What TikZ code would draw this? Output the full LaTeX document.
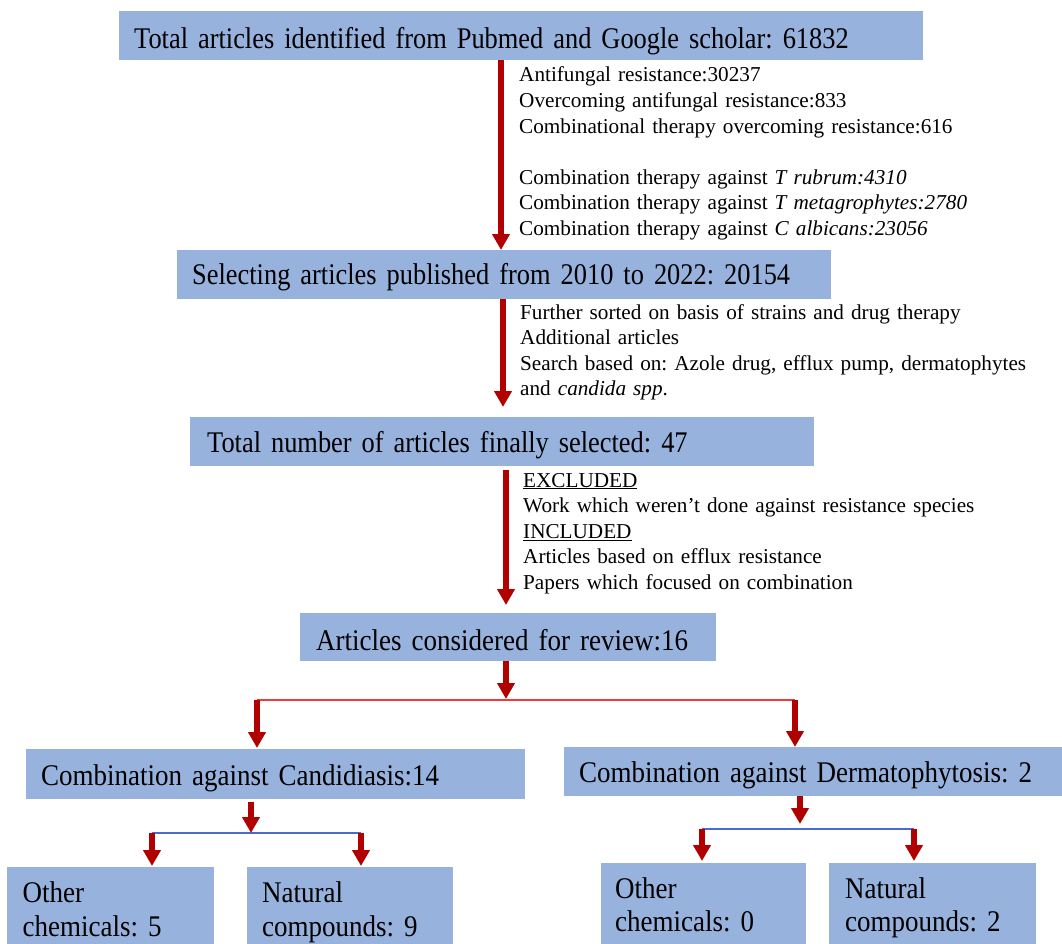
\documentclass[tikz,border=0pt]{standalone}
\usepackage{fontspec}
\setmainfont{Liberation Serif}
\newfontfamily\boxfonta[FakeStretch=0.88]{Liberation Serif}
\newfontfamily\boxfontb[FakeStretch=0.90]{Liberation Serif}
\usetikzlibrary{arrows.meta}
\definecolor{boxblue}{HTML}{98B2DE}
\definecolor{arrowred}{HTML}{B00000}
\definecolor{linered}{HTML}{F23A3A}
\definecolor{lineblue}{HTML}{4A6CC8}
\frenchspacing
\begin{document}
\begin{tikzpicture}[x=1pt,y=-1pt,
  box/.style={fill=boxblue, inner ysep=0pt, align=left, anchor=north west,
    font=\frenchspacing\boxfontb\fontsize{30}{33.5}\selectfont},
  topbox/.style={box, font=\frenchspacing\boxfonta\fontsize{30}{33.5}\selectfont},
  note/.style={inner sep=0pt, align=left, anchor=base west, text width=540pt,
    font=\frenchspacing\fontsize{21.2}{25.6}\selectfont},
  arr/.style={draw=arrowred, line width=6pt, -{Triangle[width=17pt,length=16pt]}},
  redbar/.style={draw=linered, line width=2.5pt},
  bluebar/.style={draw=lineblue, line width=2.5pt}]
\useasboundingbox (0,0) rectangle (1062,944);
\clip (0,0) rectangle (1062,944);

% main boxes
\node[topbox, inner xsep=15pt, text width=774pt, text height=37pt, text depth=12pt] (b1) at (119,11)
  {Total articles identified from Pubmed and Google scholar: 61832};
\node[topbox, inner xsep=15pt, text width=624pt, text height=34pt, text depth=15pt] (b2) at (177,250)
  {Selecting articles published from 2010 to 2022: 20154};
\node[topbox, inner xsep=17pt, text width=590pt, text height=35pt, text depth=14pt] (b3) at (190,417)
  {Total number of articles finally selected: 47};
\node[box, inner xsep=16pt, text width=384pt, text height=37pt, text depth=11pt] (b4) at (300,613)
  {Articles considered for review:16};
\node[box, inner xsep=15pt, text width=469pt, text height=36pt, text depth=14pt] (b5) at (26,749)
  {Combination against Candidiasis:14};
\node[box, inner xsep=15pt, text width=472pt, text height=35pt, text depth=14pt] (b6) at (564,747)
  {Combination against Dermatophytosis: 2};
\node[box, inner xsep=15.5pt, text width=176pt, text height=35.7pt, text depth=50pt] (b7) at (7,867)
  {Other\\chemicals: 5};
\node[box, inner xsep=15pt, text width=176pt, text height=35.7pt, text depth=50pt] (b8) at (247,867)
  {Natural\\compounds: 9};
\node[box, inner xsep=14pt, text width=177pt, text height=35pt, text depth=55pt] (b9) at (601,863)
  {Other\\chemicals: 0};
\node[box, inner xsep=16pt, text width=175pt, text height=35pt, text depth=55pt] (b10) at (829,863)
  {Natural\\compounds: 2};

% side notes
\node[note] (n1) at (519,82)
  {Antifungal resistance:30237\\
   Overcoming antifungal resistance:833\\
   Combinational therapy overcoming resistance:616\\[25.6pt]
   Combination therapy against \textit{T rubrum:4310}\\
   Combination therapy against \textit{T metagrophytes:2780}\\
   Combination therapy against \textit{C albicans:23056}};
\node[note] (n2) at (520,319)
  {Further sorted on basis of strains and drug therapy\\
   Additional articles\\
   Search based on: Azole drug, efflux pump, dermatophytes\\
   and \textit{candida spp}.};
\node[note] (n3) at (523,487)
  {\underline{EXCLUDED}\\
   Work which weren’t done against resistance species\\
   \underline{INCLUDED}\\
   Articles based on efflux resistance\\
   Papers which focused on combination};

% branch points
\coordinate (rj) at (506,700);
\coordinate (rl) at (257,700);
\coordinate (rr) at (795,700);
\coordinate (bl) at (251,833);
\coordinate (bl1) at (152,833);
\coordinate (bl2) at (361,833);
\coordinate (brj) at (800,829);
\coordinate (br1) at (702,829);
\coordinate (br2) at (914,829);

\draw[redbar] (rl) -- (rr);
\draw[bluebar] (bl1) -- (bl2);
\draw[bluebar] (br1) -- (br2);

% arrows
\draw[arr] (b1.south -| 501,0) -- (b2.north -| 501,0);
\draw[arr, shorten >=10pt] (b2.south -| 503,0) -- (b3.north -| 503,0);
\draw[arr, shorten <=4pt, shorten >=8pt] (b3.south -| 506,0) -- (b4.north -| 506,0);
\draw[arr, shorten >=1pt] (b4.south -| rj) -- (rj);
\draw[arr, shorten >=1pt] (rl) -- (b5.north -| rl);
\draw[arr] (rr) -- (b6.north -| rr);
\draw[arr, shorten <=3pt] (b5.south -| bl) -- (bl);
\draw[arr, shorten >=1pt] (bl1) -- (b7.north -| bl1);
\draw[arr, shorten >=1pt] (bl2) -- (b8.north -| bl2);
\draw[arr, shorten >=5pt] (b6.south -| brj) -- (brj);
\draw[arr, shorten >=2pt] (br1) -- (b9.north -| br1);
\draw[arr, shorten >=2pt] (br2) -- (b10.north -| br2);
\end{tikzpicture}
\end{document}
